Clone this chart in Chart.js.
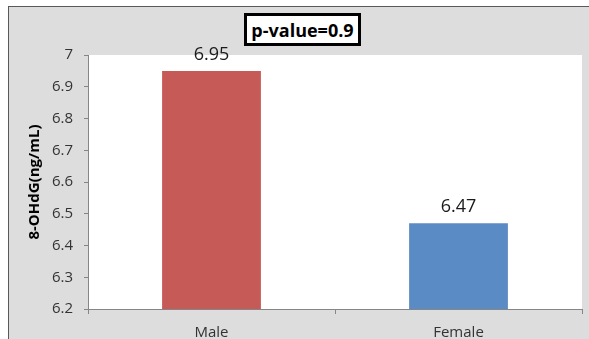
<!DOCTYPE html>
<html>
<head>
<meta charset="utf-8">
<script src="https://cdn.jsdelivr.net/npm/chart.js@4"></script>
<style>
  html, body { margin: 0; padding: 0; background: #fff; }
  #wrap { position: relative; width: 589px; height: 339px; overflow: hidden; }
  .frame {
    position: absolute; left: 8px; top: 6px; width: 700px; height: 400px;
    background: #dddddd;
    border-top: 1px solid #595959; border-left: 1px solid #595959;
  }
  #myChart { position: absolute; left: 0; top: 0; }
  .pbox {
    position: absolute; left: 244px; top: 13px; width: 117px; height: 33px;
    box-sizing: border-box; border: 3px solid #000; background: #fff;
    font: bold 18px "Open Sans", sans-serif; color: #000;
    display: flex; align-items: center; justify-content: center;
  }
</style>
</head>
<body>
<div id="wrap">
  <div class="frame"></div>
  <canvas id="myChart" width="589" height="339"></canvas>
  <div class="pbox" id="pbox"></div>
</div>
<script>
const categories = ["Male", "Female"];
const values = [6.95, 6.47];
const barColors = ["#c55a57", "#5b8bc5"];
const yMin = 6.2;
const yMax = 7;
const yStep = 0.1;
const yTickLabels = ["6.2", "6.3", "6.4", "6.5", "6.6", "6.7", "6.8", "6.9", "7"];
const yTitle = "8-OHdG(ng/mL)";
const pValueText = "p-value=0.9";

document.getElementById("pbox").textContent = pValueText;

const axisColor = "#868686";
const fontFamily = "'Open Sans', sans-serif";

// white plot area on the grey chart background
const plotBg = {
  id: "plotBg",
  beforeDraw(chart) {
    const { ctx, chartArea } = chart;
    ctx.save();
    ctx.fillStyle = "#ffffff";
    ctx.fillRect(chartArea.left, chartArea.top, chartArea.right - chartArea.left, chartArea.bottom - chartArea.top);
    ctx.restore();
  },
};

// value labels above the bars
const valueLabels = {
  id: "valueLabels",
  afterDatasetsDraw(chart) {
    const ctx = chart.ctx;
    const meta = chart.getDatasetMeta(0);
    ctx.save();
    ctx.font = "18px " + fontFamily;
    ctx.fillStyle = "#1a1a1a";
    ctx.textAlign = "center";
    ctx.textBaseline = "alphabetic";
    meta.data.forEach((bar, i) => {
      ctx.fillText(values[i].toFixed(2), bar.x, bar.y - 11);
    });
    ctx.restore();
  },
};

let ctx = document.getElementById("myChart").getContext("2d");

let myChart = new Chart(ctx, {
  type: "bar",
  data: {
    labels: categories,
    datasets: [
      {
        data: values,
        backgroundColor: barColors,
        borderWidth: 0,
        barPercentage: 0.4,
        categoryPercentage: 1,
      },
    ],
  },
  plugins: [plotBg, valueLabels],
  options: {
    responsive: false,
    animation: false,
    layout: {
      padding: { top: 55, right: 7, left: 0, bottom: 0 },
    },
    plugins: {
      legend: { display: false },
      tooltip: { enabled: false },
    },
    scales: {
      x: {
        afterFit(scale) {
          scale.height = 30;
        },
        grid: {
          drawOnChartArea: false,
          drawTicks: true,
          tickLength: 5,
          color: axisColor,
        },
        border: { display: true, color: axisColor },
        ticks: {
          padding: 10,
          color: "#333333",
          font: { family: fontFamily, size: 15 },
        },
      },
      y: {
        min: yMin,
        max: yMax,
        afterFit(scale) {
          scale.width = 88;
        },
        grid: {
          drawOnChartArea: false,
          drawTicks: true,
          tickLength: 4,
          color: axisColor,
        },
        border: { display: true, color: axisColor },
        ticks: {
          stepSize: yStep,
          padding: 11,
          color: "#333333",
          font: { family: fontFamily, size: 15 },
          callback: (v) => yTickLabels[Math.round((v - yMin) / yStep)],
        },
        title: {
          display: true,
          text: yTitle,
          color: "#000000",
          padding: { top: 26, bottom: 0 },
          font: { family: fontFamily, size: 15, weight: "bold" },
        },
      },
    },
  },
});
</script>
</body>
</html>
